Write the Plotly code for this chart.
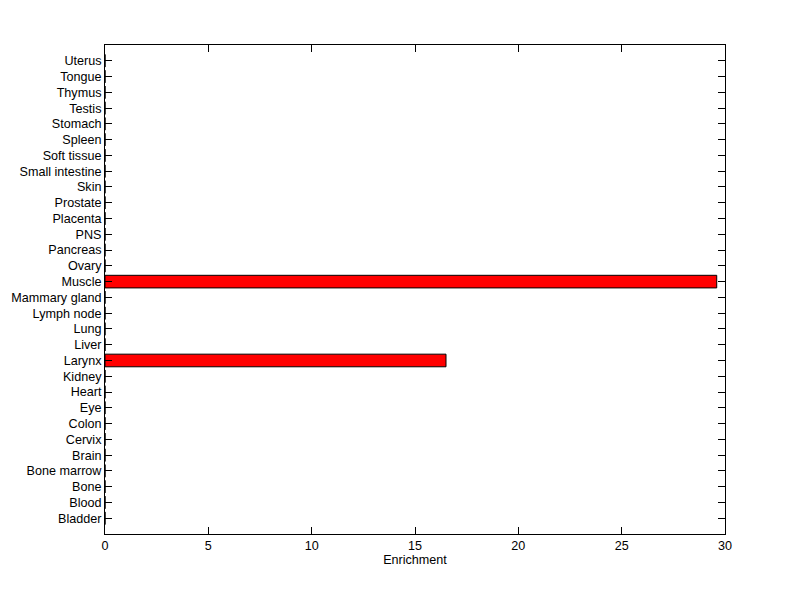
import plotly.graph_objects as go

tissues = ["Bladder", "Blood", "Bone", "Bone marrow", "Brain", "Cervix", "Colon", "Eye",
           "Heart", "Kidney", "Larynx", "Liver", "Lung", "Lymph node", "Mammary gland",
           "Muscle", "Ovary", "Pancreas", "PNS", "Placenta", "Prostate", "Skin",
           "Small intestine", "Soft tissue", "Spleen", "Stomach", "Testis", "Thymus",
           "Tongue", "Uterus"]
enrichment = [0, 0, 0, 0, 0, 0, 0, 0, 0, 0, 16.5, 0, 0, 0, 0, 29.6, 0, 0, 0, 0, 0, 0,
              0, 0, 0, 0, 0, 0, 0, 0]
x_ticks = [0, 5, 10, 15, 20, 25, 30]

positions = list(range(len(tissues)))

fig = go.Figure(go.Bar(
    x=enrichment, y=positions, orientation="h", width=0.8,
    marker=dict(color="#ff0000", line=dict(color="black", width=1)),
))

font = dict(family="Liberation Sans, Arial, sans-serif", size=12.6, color="black")
fig.update_layout(
    width=800, height=599, paper_bgcolor="white", plot_bgcolor="white",
    margin=dict(l=97, r=83, t=37, b=73), showlegend=False, font=font,
)
fig.update_xaxes(range=[0, 30], tickvals=x_ticks, ticks="inside", ticklen=7,
                 tickcolor="black", showline=True, linecolor="black", linewidth=1,
                 mirror="ticks", showgrid=False, zeroline=False, automargin=False,
                 title=dict(text="Enrichment", font=font, standoff=2))
fig.update_yaxes(range=[-1, len(tissues)], tickvals=positions, ticktext=tissues,
                 ticks="inside", ticklen=7, tickcolor="black", showline=True,
                 linecolor="black", linewidth=1, mirror="ticks", showgrid=False,
                 zeroline=False, automargin=False)
fig.write_html("out.html")
